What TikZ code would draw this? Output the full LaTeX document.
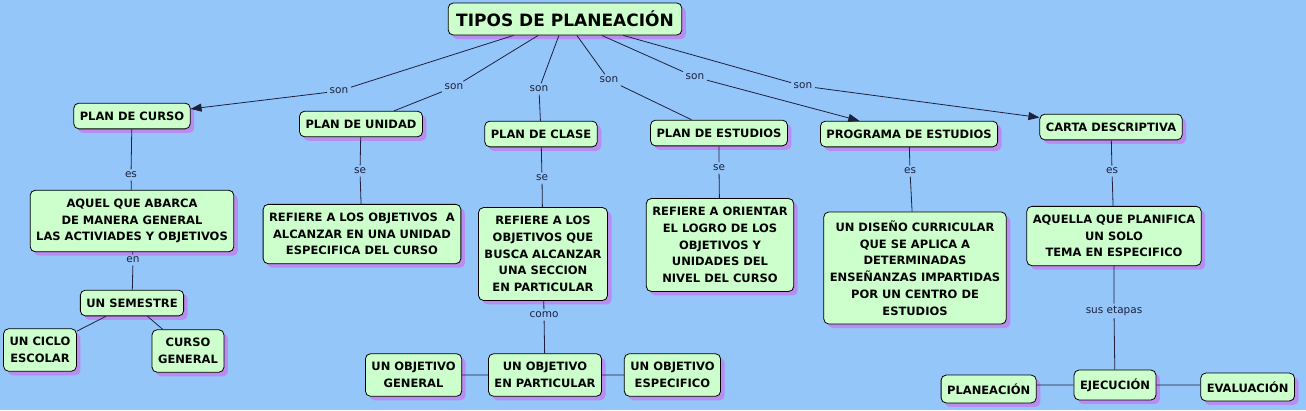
\documentclass[tikz,border=0pt]{standalone}
\usepackage{fontspec}
\setmainfont{DejaVu Sans}
\usepackage{xcolor}
\usetikzlibrary{positioning,shadows,arrows.meta}
\definecolor{fondo}{RGB}{148,198,250}
\definecolor{verde}{RGB}{204,255,204}
\definecolor{sombra}{RGB}{184,140,240}
\definecolor{tinta}{RGB}{30,32,60}

\begin{document}
\begin{tikzpicture}[x=1pt,y=-1pt,>={Triangle[length=11pt,width=8pt]},
	concepto/.style={draw,rounded corners=5pt,fill=verde,line width=0.8pt,align=center,
		font=\bfseries\fontsize{11.5}{16.8}\selectfont,inner xsep=6pt,inner ysep=8.5pt,minimum height=25pt,
		drop shadow={shadow xshift=4pt,shadow yshift=-4pt,fill=sombra,opacity=1}},
	enlace/.style={font=\fontsize{10.5}{12}\selectfont,text=tinta,inner sep=2.5pt},
	linea/.style={draw=tinta,line width=0.8pt}]
		\fill[fondo] (0,0) rectangle (1306,410);
		\useasboundingbox (0,0) rectangle (1306,410);

		% conceptos
		\node[concepto,font=\bfseries\fontsize{17}{20}\selectfont,inner xsep=8pt,inner ysep=8pt] (top) at (565,19) {TIPOS DE PLANEACIÓN};
		\node[concepto] (curso) at (132,116) {PLAN DE CURSO};
		\node[concepto] (unidad) at (361,124) {PLAN DE UNIDAD};
		\node[concepto] (clase) at (541,134) {PLAN DE CLASE};
		\node[concepto] (estudios) at (719,133) {PLAN DE ESTUDIOS};
		\node[concepto] (programa) at (909,134) {PROGRAMA DE ESTUDIOS};
		\node[concepto] (carta) at (1111,127) {CARTA DESCRIPTIVA};
		\node[concepto] (abarca) at (132,221) {AQUEL QUE ABARCA\\DE MANERA GENERAL\\LAS ACTIVIADES Y OBJETIVOS};
		\node[concepto] (refunidad) at (362,234) {REFIERE A LOS OBJETIVOS \ A\\ALCANZAR EN UNA UNIDAD\\ESPECIFICA DEL CURSO};
		\node[concepto] (refclase) at (543,254) {REFIERE A LOS\\OBJETIVOS QUE\\BUSCA ALCANZAR\\UNA SECCION\\EN PARTICULAR};
		\node[concepto] (refestudios) at (720,245) {REFIERE A ORIENTAR\\EL LOGRO DE LOS\\OBJETIVOS Y\\UNIDADES DEL\\NIVEL DEL CURSO};
		\node[concepto,minimum height=112pt] (diseno) at (915,268) {UN DISEÑO CURRICULAR\\QUE SE APLICA A\\DETERMINADAS\\ENSEÑANZAS IMPARTIDAS\\POR UN CENTRO DE\\ESTUDIOS};
		\node[concepto] (planifica) at (1114,236) {AQUELLA QUE PLANIFICA\\UN SOLO\\TEMA EN ESPECIFICO};
		\node[concepto] (semestre) at (132,303) {UN SEMESTRE};
		\node[concepto] (ciclo) at (40,350) {UN CICLO\\ESCOLAR};
		\node[concepto] (cursog) at (188,351) {CURSO\\GENERAL};
		\node[concepto] (oparticular) at (545,375) {UN OBJETIVO\\EN PARTICULAR};
		\node[concepto] (ogeneral) [left=26pt of oparticular] {UN OBJETIVO\\GENERAL};
		\node[concepto] (oespecifico) [right=22pt of oparticular] {UN OBJETIVO\\ESPECIFICO};
		\node[concepto] (ejecucion) at (1115,385) {EJECUCIÓN};
		\node[concepto] (planeacion) [left=37pt of ejecucion,yshift=-4pt] {PLANEACIÓN};
		\node[concepto] (evaluacion) [right=44pt of ejecucion,yshift=-2pt] {EVALUACIÓN};

		% enlaces
		\node[enlace] (son1) at (339,91) {son};
		\node[enlace] (son2) at (454,87) {son};
		\node[enlace] (son3) at (539,89) {son};
		\node[enlace] (son4) at (609,80) {son};
		\node[enlace] (son5) at (695,77) {son};
		\node[enlace] (son6) at (803,86) {son};
		\node[enlace] (es1) at (131,175) {es};
		\node[enlace] (se1) at (360,171) {se};
		\node[enlace] (se2) at (542,178) {se};
		\node[enlace] (se3) at (719,168) {se};
		\node[enlace] (es2) at (910,171) {es};
		\node[enlace] (es3) at (1112,171) {es};
		\node[enlace] (en) at (133,260) {en};
		\node[enlace] (como) at (544,315) {como};
		\node[enlace] (etapas) at (1114,311) {sus etapas};

		\draw[linea] (top) -- (son1) (top) -- (son2) (top) -- (son3)
			(top) -- (son4) (top) -- (son5) (top) -- (son6);
		\draw[linea,->] (son1) -- (curso);
		\draw[linea] (son2) -- (unidad) (son3) -- (clase) (son4) -- (estudios);
		\draw[linea,->] (son5) -- (programa);
		\draw[linea,->] (son6) -- (carta);
		\draw[linea] (curso) -- (es1) -- (abarca) -- (en) -- (semestre)
			(semestre) -- (ciclo) (semestre) -- (cursog)
			(unidad) -- (se1) -- (refunidad)
			(clase) -- (se2) -- (refclase) -- (como) -- (oparticular)
			(oparticular) -- (ogeneral) (oparticular) -- (oespecifico)
			(estudios) -- (se3) -- (refestudios)
			(programa) -- (es2) -- (diseno)
			(carta) -- (es3) -- (planifica) -- (etapas) -- (ejecucion)
			(ejecucion.west) -- (ejecucion.west -| planeacion.east)
			(ejecucion.east) -- (ejecucion.east -| evaluacion.west);
\end{tikzpicture}
\end{document}
